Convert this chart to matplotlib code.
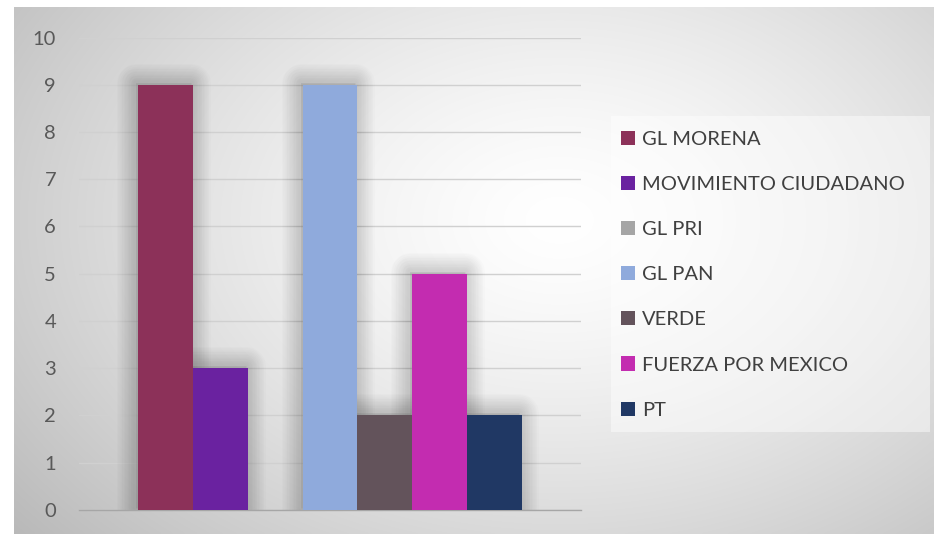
import matplotlib
matplotlib.use('Agg')
import matplotlib.pyplot as plt
import matplotlib.patheffects as pe
from matplotlib.patches import Rectangle, Patch
import numpy as np

plt.rcParams['font.family'] = ['Lato', 'DejaVu Sans']

# data
parties = ['GL MORENA', 'MOVIMIENTO CIUDADANO', 'GL PRI', 'GL PAN',
           'VERDE', 'FUERZA POR MEXICO', 'PT']
seats = [9, 3, 0, 9, 2, 5, 2]
colors = ['#8C3159', '#6A22A0', '#A5A5A5', '#8FAADC',
          '#63535B', '#C32CB0', '#203864']
yticks = [0, 1, 2, 3, 4, 5, 6, 7, 8, 9, 10]

W, H = 934, 534
fig = plt.figure(figsize=(W / 100, H / 100), dpi=100)
fig.patch.set_facecolor('white')

# chart area background (radial gray gradient)
bg = fig.add_axes([14 / W, 0, 1 - 14 / W, 527 / H], zorder=-10)
xx, yy = np.meshgrid(np.linspace(14, W, 400), np.linspace(7, H, 240))
r = np.sqrt(((xx - 560) / 650) ** 2 + ((yy - 220) / 450) ** 2)
v = (255 - 62 * r ** 1.4) / 255
v = np.clip(v, 0, 1)
bg.imshow(np.dstack([v, v, v]), aspect='auto', extent=[0, 1, 0, 1],
          origin='upper', interpolation='bilinear')
bg.set_axis_off()

ax = fig.add_axes([79 / W, 24.3 / H, 502 / W, 472 / H])
ax.patch.set_alpha(0)

n = len(parties)
group = 0.763
bw = group / n
xs = [(i - (n - 1) / 2) * bw for i in range(n)]

# soft outer shadow, drawn under all bars
shadow = [pe.Stroke(linewidth=lw, foreground='black', alpha=0.011,
                    offset=(-1.5, 1.5), joinstyle='round')
          for lw in range(28, 2, -2)]
for x, s in zip(xs, seats):
    if s > 0:
        sb = ax.bar(x, s, width=bw, color='#808080', zorder=2)
        for b in sb:
            b.set_path_effects(shadow)

for x, s, c in zip(xs, seats, colors):
    ax.bar(x, s, width=bw, color=c, zorder=3)

ax.set_xlim(-0.5, 0.5)
ax.set_ylim(0, 10)
ax.set_yticks(yticks)
ax.set_xticks([])
ax.tick_params(axis='y', length=0, pad=16.5, labelsize=14.5, labelcolor='#595959')
for t in ax.get_yticklabels():
    t.set_horizontalalignment('right')
ax.grid(axis='y', color='#d0d0d0', linewidth=1.0, zorder=0)
ax.set_axisbelow(True)
for sp in ['top', 'right', 'left']:
    ax.spines[sp].set_visible(False)
ax.spines['bottom'].set_color('#a6a6a6')
ax.spines['bottom'].set_linewidth(1.0)

# legend box
fig.patches.append(Rectangle((611 / W, 1 - 432 / H), 319 / W, 316 / H,
                             transform=fig.transFigure, facecolor='white',
                             alpha=0.45, edgecolor='none', zorder=1))
handles = [Patch(facecolor=c, edgecolor='none') for c in colors]
leg = fig.legend(handles, parties, loc='upper left',
                 bbox_to_anchor=(621 / W, 1 - 131 / H),
                 frameon=False, fontsize=14.5, labelcolor='#404040',
                 handlelength=0.7, handleheight=0.7, handletextpad=0.35,
                 labelspacing=1.39, borderpad=0, borderaxespad=0)
leg.set_zorder(5)

fig.savefig('out.png', dpi=100)
